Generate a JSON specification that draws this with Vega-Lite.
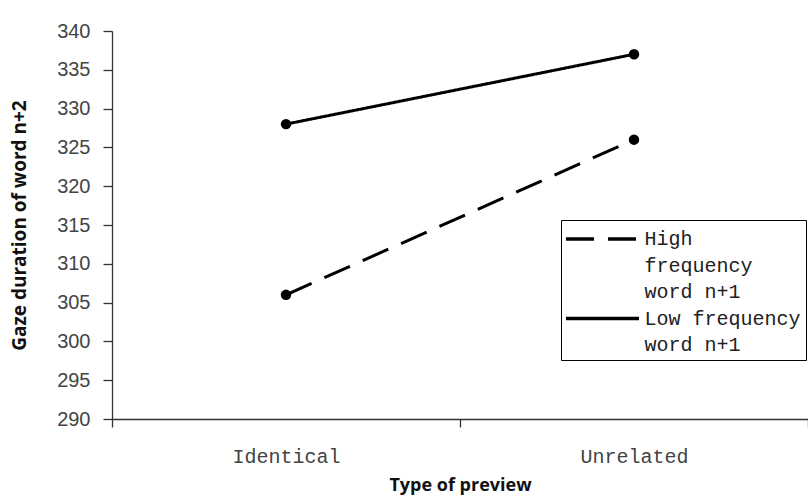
{
  "$schema": "https://vega.github.io/schema/vega-lite/v6.json",
  "width": 696,
  "height": 388,
  "autosize": {"type": "none"},
  "padding": {"left": 112, "top": 31, "right": 0, "bottom": 80},
  "background": "white",
  "config": {
    "view": {"stroke": null},
    "axis": {"grid": false, "domainColor": "#333", "tickColor": "#333", "domainWidth": 1.3, "tickWidth": 1.3}
  },
  "data": {
    "values": [
      {"preview": "Identical", "series": "High frequency word n+1", "gaze": 306},
      {"preview": "Unrelated", "series": "High frequency word n+1", "gaze": 326},
      {"preview": "Identical", "series": "Low frequency word n+1", "gaze": 328},
      {"preview": "Unrelated", "series": "Low frequency word n+1", "gaze": 337}
    ]
  },
  "encoding": {
    "x": {
      "field": "preview", "type": "nominal",
      "scale": {"type": "band", "paddingInner": 0, "paddingOuter": 0},
      "axis": {
        "title": "Type of preview", "labelAngle": 0, "tickBand": "extent",
        "tickSize": 8, "labelPadding": 19, "labelFont": "Liberation Mono", "labelFontSize": 20,
        "labelColor": "#444", "titleFont": "Open Sans", "titleFontWeight": "bold", "titleFontSize": 18,
        "titleColor": "#111", "titlePadding": 10
      }
    },
    "y": {
      "field": "gaze", "type": "quantitative",
      "scale": {"domain": [290, 340], "zero": false},
      "axis": {
        "title": "Gaze  duration of word n+2", "values": [290,295,300,305,310,315,320,325,330,335,340],
        "tickSize": 9, "labelPadding": 13, "labelFont": "Liberation Sans", "labelFontSize": 20,
        "labelColor": "#444", "titleFont": "Open Sans", "titleFontWeight": "bold", "titleFontSize": 19,
        "titleColor": "#111", "titlePadding": 27
      }
    }
  },
  "layer": [
    {
      "mark": {"type": "line", "color": "black", "strokeWidth": 3},
      "encoding": {
        "strokeDash": {
          "field": "series", "type": "nominal",
          "scale": {"domain": ["High frequency word n+1", "Low frequency word n+1"], "range": [[28, 14], [1, 0]]},
          "legend": {
            "title": null, "orient": "none", "legendX": 449, "legendY": 189,
            "strokeColor": "black", "fillColor": "white", "padding": 5,
            "symbolType": "M-3,0H3", "symbolSize": 592, "symbolStrokeWidth": 3.5, "symbolStrokeColor": "black",
            "symbolOffset": 22.5,
            "labelFont": "Liberation Mono", "labelFontSize": 20, "labelColor": "#222", "labelOffset": 28,
            "labelLimit": 300, "rowPadding": 2.5,
            "labelExpr": "datum.label == 'High frequency word n+1' ? ['High', 'frequency', 'word n+1'] : ['Low frequency', 'word n+1']",
            "encoding": {"labels": {"lineHeight": {"value": 26.5}}}
          }
        }
      }
    },
    {
      "mark": {"type": "point", "filled": true, "color": "black", "size": 110, "opacity": 1}
    }
  ]
}
